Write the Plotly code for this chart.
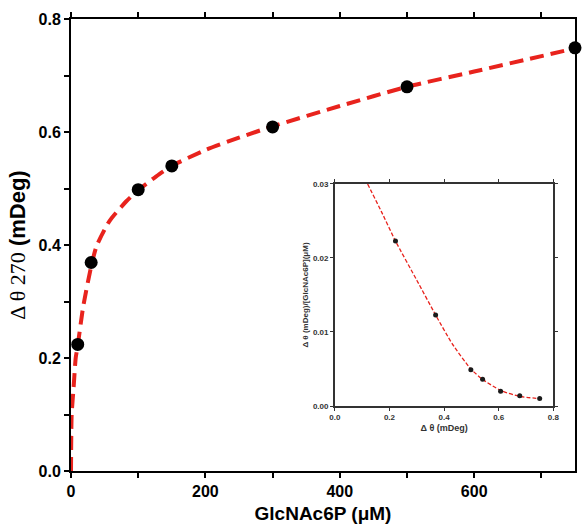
import plotly.graph_objects as go

# Main data: GlcNAc6P concentration (uM) vs delta theta 270 (mDeg)
conc = [10, 30, 100, 150, 300, 500, 750]
dtheta = [0.224, 0.369, 0.498, 0.540, 0.609, 0.680, 0.749]

# Fitted curve
fit_x = [0, 1, 4, 7, 10, 18, 30, 38, 57, 82, 100, 131, 150, 200, 250, 300, 400, 500, 600, 750]
fit_y = [0, 0.10, 0.15, 0.20, 0.222, 0.29, 0.362, 0.398, 0.442, 0.477, 0.497, 0.525, 0.540,
         0.568, 0.590, 0.610, 0.646, 0.680, 0.707, 0.748]

# Inset (Scatchard-type) data
ins_x = [0.222, 0.369, 0.498, 0.541, 0.607, 0.677, 0.750]
ins_y = [0.0223, 0.0123, 0.0049, 0.0036, 0.0020, 0.0014, 0.0010]
ins_fit_x = [0.12, 0.17, 0.222, 0.30, 0.369, 0.43, 0.498, 0.541, 0.607, 0.677, 0.75]
ins_fit_y = [0.030, 0.0263, 0.0223, 0.0170, 0.0123, 0.0084, 0.0050, 0.0036, 0.0021, 0.0013, 0.0010]

RED = "#e8231d"
fig = go.Figure()
fig.add_trace(go.Scatter(x=fit_x, y=fit_y, mode="lines",
                         line=dict(color=RED, width=4, dash="14px,7px", shape="spline", smoothing=0.6),
                         hoverinfo="skip", showlegend=False))
fig.add_trace(go.Scatter(x=conc, y=dtheta, mode="markers",
                         marker=dict(color="black", size=13), showlegend=False, cliponaxis=False))
fig.add_trace(go.Scatter(x=ins_fit_x, y=ins_fit_y, mode="lines", xaxis="x2", yaxis="y2",
                         line=dict(color=RED, width=1.3, dash="4px,2px", shape="spline", smoothing=0.6),
                         hoverinfo="skip", showlegend=False))
fig.add_trace(go.Scatter(x=ins_x, y=ins_y, mode="markers", xaxis="x2", yaxis="y2",
                         marker=dict(color="#1a1a1a", size=5), showlegend=False, cliponaxis=False))

tickfont = dict(family="Liberation Sans, Arial", size=16, color="black", weight="bold")
ins_font = dict(family="Liberation Sans, Arial", size=8, color="#333", weight="bold")

fig.update_layout(
    width=587, height=527,
    margin=dict(l=71, r=6, t=19, b=56),
    paper_bgcolor="white", plot_bgcolor="white",
    xaxis=dict(range=[0, 750], tickmode="linear", tick0=0, dtick=200, showgrid=False, zeroline=False,
               showline=True, linecolor="black", linewidth=2, mirror="allticks",
               ticks="outside", ticklen=5, tickwidth=2, tickcolor="black",
               minor=dict(tickmode="linear", tick0=0, dtick=100, ticks="outside", ticklen=5, tickwidth=2,
                          tickcolor="black", showgrid=False),
               tickfont=tickfont,
               title=dict(text="GlcNAc6P (μM)", standoff=7,
                          font=dict(family="Liberation Sans, Arial", size=19, color="black", weight="bold"))),
    yaxis=dict(range=[0, 0.8], tickmode="linear", tick0=0, dtick=0.2, tickformat=".1f", showgrid=False, zeroline=False,
               showline=True, linecolor="black", linewidth=2, mirror=True,
               ticks="outside", ticklen=5, tickwidth=2, tickcolor="black",
               minor=dict(tickmode="linear", tick0=0, dtick=0.1, ticks="outside", ticklen=5, tickwidth=2,
                          tickcolor="black", showgrid=False),
               tickfont=tickfont,
               title=dict(text="<span style='font-family:Liberation Serif'>Δ θ 270</span> <b>(mDeg)</b>", standoff=7,
                          font=dict(family="Liberation Sans, Arial", size=22, color="black"))),
    xaxis2=dict(domain=[0.5235, 0.957], anchor="y2", range=[0, 0.8], tickmode="linear", tick0=0, dtick=0.2,
                tickformat=".1f", showgrid=False, zeroline=False,
                showline=True, linecolor="#333", linewidth=1.5, mirror="allticks",
                ticks="outside", ticklen=3, tickwidth=1.2, tickcolor="#333", tickfont=ins_font,
                title=dict(text="Δ θ (mDeg)", standoff=3,
                           font=dict(family="Liberation Sans, Arial", size=9, color="#333", weight="bold"))),
    yaxis2=dict(domain=[0.1438, 0.635], anchor="x2", range=[0, 0.03], tickmode="linear", tick0=0, dtick=0.01,
                tickformat=".2f", showgrid=False, zeroline=False,
                showline=True, linecolor="#333", linewidth=1.5, mirror="allticks",
                ticks="outside", ticklen=3, tickwidth=1.2, tickcolor="#333", tickfont=ins_font,
                title=dict(text="Δ θ (mDeg)/[GlcNAc6P](μM)", standoff=3,
                           font=dict(family="Liberation Sans, Arial", size=8, color="#333", weight="bold"))),
)

fig.write_html("out.html")
